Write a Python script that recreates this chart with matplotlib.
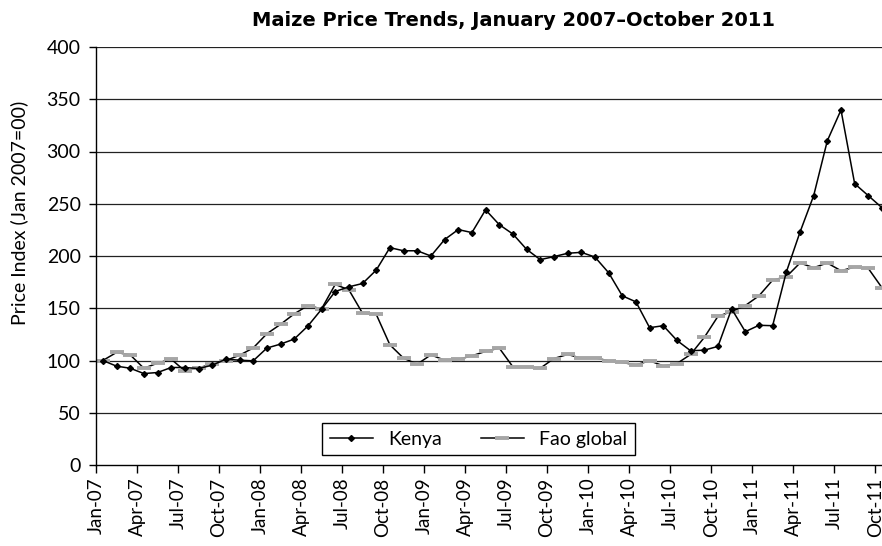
import matplotlib
matplotlib.use("Agg")
import matplotlib.pyplot as plt
import numpy as np

plt.rcParams['font.family'] = ['Lato', 'DejaVu Sans']

months = ["Jan", "Feb", "Mar", "Apr", "May", "Jun",
          "Jul", "Aug", "Sep", "Oct", "Nov", "Dec"]
dates = [f"{m}-{y:02d}" for y in range(7, 12) for m in months][:58]

kenya = [100, 94.6, 92.6, 87.5, 88.5, 93.3, 93.3, 92.3, 95.5, 101.3,
         100.3, 99.7, 111.9, 115.7, 120.5, 133, 149, 166, 170.5, 173.7,
         186.5, 208, 205, 205, 200, 215.7, 225.3, 222.4, 244.2, 230,
         221, 206.4, 196.5, 199.4, 202.6, 203.5, 199, 184, 161.9, 156.1,
         131.4, 133.3, 119.2, 109.3, 109.9, 113.5, 149.4, 127.6, 133.7, 133.3,
         184.6, 222.8, 257.7, 310.3, 339.7, 269.2, 257.7, 246.2]

fao = [100, 107.7, 105.4, 92.6, 97.4, 101.3, 90, 93, 96.5, 100,
       105, 112, 125.6, 134.6, 144.6, 152.6, 149.4, 172.8, 167.6, 145.2,
       144.2, 115, 102.2, 96.5, 105.4, 100.3, 101, 104.5, 108.7, 111.9,
       93.9, 93.9, 92.6, 101.9, 105.8, 102.2, 102.6, 99.7, 98.1, 95.8,
       99.7, 94.9, 97.1, 105.8, 122.1, 142.3, 146.8, 152.6, 161.9, 176.9,
       180.1, 193.3, 188.8, 193.3, 185.9, 189.4, 188.1, 169.6]

# points sit in the middle of each monthly category
x = np.arange(len(dates)) + 0.5

fig = plt.figure(figsize=(8.82, 5.46), dpi=100)
ax = fig.add_axes([96 / 882, 81 / 546, 786 / 882, 418 / 546])

ax.set_ylim(0, 400)
ax.set_xlim(0, 57.5)
ax.set_yticks(range(0, 401, 50))
for v in range(50, 401, 50):
    ax.axhline(v, color="#222222", lw=0.9, zorder=0)

ax.plot(x, kenya, color="black", lw=1.1, marker="D", markersize=3,
        label="Kenya", zorder=3, clip_on=False)
ax.plot(x, fao, color="black", lw=1.1, marker="_", markersize=10,
        markeredgewidth=2.8, markeredgecolor="#a6a6a6", label="Fao global",
        zorder=2, clip_on=False)

ax.set_xticks(np.arange(0, 58, 3))
ax.set_xticklabels(dates[::3], rotation=90, fontsize=13.5)
ax.tick_params(axis="y", labelsize=14, length=5, direction="out", width=1,
               pad=6)
ax.tick_params(axis="x", length=6, direction="out", width=1, pad=3)

for s in ["top", "right"]:
    ax.spines[s].set_visible(False)
ax.spines["left"].set_linewidth(1)
ax.spines["bottom"].set_linewidth(1)

leg = ax.legend(loc="lower center", bbox_to_anchor=(0.487, 0.0), ncol=2,
                fontsize=14, frameon=True, fancybox=False, framealpha=1,
                edgecolor="black", handlelength=2.2, columnspacing=2.0,
                borderpad=0.4)
leg.get_frame().set_linewidth(1)

fig.text(0.582, 0.963, "Maize Price Trends, January 2007\u2013October 2011",
         ha="center", va="center", fontsize=14, fontweight="bold",
         family=["Liberation Sans Narrow", "DejaVu Sans"])
fig.text(0.022, 0.61, "Price Index (Jan 2007=00)", rotation=90,
         ha="center", va="center", fontsize=14)

fig.savefig("out.png", dpi=100)
